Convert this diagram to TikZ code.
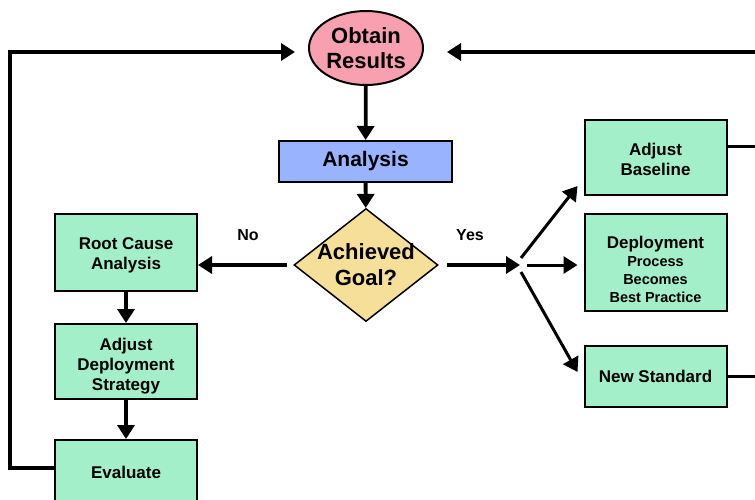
\documentclass[tikz,border=0pt]{standalone}
\usepackage{fontspec}
\setmainfont{Liberation Sans}
\usetikzlibrary{shapes.geometric, arrows.meta, calc}

\definecolor{boxgreen}{HTML}{A3EFC9}
\definecolor{resultpink}{HTML}{F9A0B0}
\definecolor{analysisblue}{HTML}{99B3FF}
\definecolor{goalyellow}{HTML}{F5DF99}

\newcommand{\subline}[1]{{\fontsize{14.5}{18}\selectfont #1}}

\tikzset{
    stepbox/.style={rectangle, draw, line width=2pt, fill=boxgreen, align=center,
        font=\bfseries\fontsize{17}{20}\selectfont, minimum width=142, inner sep=2pt},
    flow/.style={line width=3.8pt, -{Triangle[length=14pt, width=17pt]}},
    link/.style={line width=3.5pt},
    lbl/.style={font=\bfseries\fontsize{16}{19}\selectfont},
}

\begin{document}
\begin{tikzpicture}[x=1pt, y=-1pt]
    \useasboundingbox (0,0) rectangle (755,499);
    \clip (0,0) rectangle (755,499);

    % Draw nodes
    \node[ellipse, draw, line width=2pt, fill=resultpink, minimum width=114, minimum height=74,
        inner sep=-8pt, align=center, font=\bfseries\fontsize{22}{25}\selectfont] (obtain) at (366,48) {Obtain\\Results};
    \node[rectangle, draw, line width=2pt, fill=analysisblue, minimum width=173, minimum height=41,
        font=\bfseries\fontsize{21}{24}\selectfont] (analysis) at (365.5,161.5) {Analysis};
    \node[diamond, draw, line width=1.5pt, fill=goalyellow, minimum width=144, minimum height=113,
        inner xsep=-25pt, inner ysep=-10pt, align=center, font=\bfseries\fontsize{22}{26}\selectfont] (goal) at (366,265) {Achieved\\Goal?};

    \node[stepbox, minimum height=77] (root) at (126,252.5) {\rule{0pt}{18pt}Root Cause\\Analysis};
    \node[stepbox, minimum height=75] (adjust) at (126,361.5) {\rule{0pt}{22pt}Adjust\\Deployment\\Strategy};
    \node[stepbox, minimum height=64] (evaluate) at (126,472) {Evaluate};

    \node[stepbox, minimum height=75] (baseline) at (655.5,157.5) {\rule{0pt}{16pt}Adjust\\Baseline};
    \node[stepbox, minimum height=97] (deploy) at (655.5,262.5)
        {\rule{0pt}{26pt}Deployment\\[-2pt]\subline{Process}\\[-2pt]\subline{Becomes}\\[-2pt]\subline{Best Practice}};
    \node[stepbox, minimum height=61] (standard) at (655.5,376.5) {New Standard};

    % Loop and split points
    \coordinate (split) at (520,265);
    \coordinate (leftcorner) at (10,52);
    \coordinate (lefttip) at (295,52);
    \coordinate (rightcorner) at (770,52);
    \coordinate (righttip) at (447,52);

    % Draw connections
    \draw[flow] (obtain) -- (analysis);
    \draw[flow] (analysis) -- (goal);
    \draw[flow] ([xshift=-6pt]goal.west) -- (goal.west -| root.east);
    \draw[flow] ([xshift=8pt]goal.east) -- (split);
    \draw[flow, line width=3pt] ([shift={(1,-7)}]split) -- ($(baseline.west)+(-6,28.5)$);
    \draw[flow, line width=3pt] ([xshift=7pt]split) -- ($(split -| deploy.west)+(-6,0)$);
    \draw[flow, line width=3pt] ([shift={(1,7)}]split) -- ($(standard.west)+(-6,-4.5)$);
    \draw[flow] (root) -- (adjust);
    \draw[flow] (adjust) -- (evaluate);

    \draw[flow, line cap=rect] ([yshift=4pt]evaluate.west) -| (leftcorner) -- (lefttip);
    \draw[flow] ([yshift=11pt]baseline.east) -| (rightcorner) -- (righttip);
    \draw[link] (standard.east) -| (rightcorner);

    % Labels
    \node[lbl] (no) at (248,235) {No};
    \node[lbl] (yes) at (470,235) {Yes};
\end{tikzpicture}
\end{document}
